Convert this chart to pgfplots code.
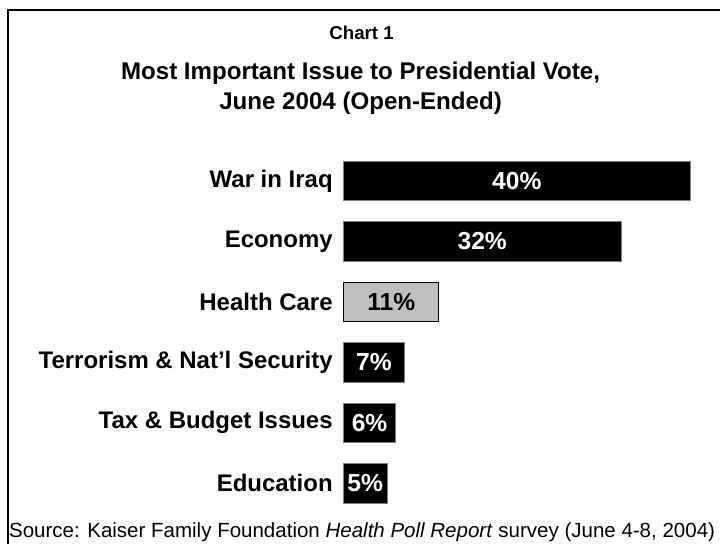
\documentclass[border=0pt]{standalone}
\usepackage{pgfplots}
\usepackage{pgfplotstable}
\pgfplotsset{compat=1.18}
\usepackage{fontspec}
\setmainfont{Liberation Sans}
\definecolor{hcgray}{RGB}{192,192,192}
\pgfplotstableread{
y v lab
0 40 40\%
1 32 32\%
3 7 7\%
4 6 6\%
5 5 5\%
}\blackbars
\pgfplotstableread{
y v lab
2 11 11\%
}\graybars
\begin{document}
\begin{tikzpicture}
\begin{scope}[x=0.75pt,y=-0.75pt]
\path (0,0) rectangle (721,545);
\draw[line width=1.3pt] (8,545) -- (8,10) -- (721,10);
\node[anchor=base, font=\bfseries\fontsize{14}{16}\selectfont] at (362,40) {Chart 1};
\node[anchor=base, font=\bfseries\fontsize{18.1}{21}\selectfont] at (361,80) {Most Important Issue to Presidential Vote,};
\node[anchor=base, font=\bfseries\fontsize{18.1}{21}\selectfont] at (361,110) {June 2004 (Open-Ended)};
\node[anchor=base, font=\fontsize{15.4}{18}\selectfont] at (362.5,538) {Source: Kaiser Family Foundation \textit{Health Poll Report} survey (June 4-8, 2004)};
\end{scope}
\begin{axis}[
  at={(258pt,-385.5pt)}, anchor=south west,
  scale only axis, width=260.25pt, height=272.25pt,
  xmin=0, xmax=40, ymin=-0.5, ymax=5.5, y dir=reverse,
  axis lines=left, axis line style={draw=none},
  xtick=\empty, ytick={0,1,2,3,4,5},
  yticklabels={War in Iraq, Economy, Health Care, Terrorism \& Nat’l Security, Tax \& Budget Issues, Education},
  major tick length=0pt,
  yticklabel style={font=\bfseries\fontsize{18}{20}\selectfont, anchor=east, inner sep=0pt, xshift=-8pt},
  clip=false,
]
\addplot[xbar, bar width=29.6pt, bar shift=0pt, fill=black, draw=gray, line width=0.5pt] table[x=v, y=y] {\blackbars};
\addplot[xbar, bar width=29.6pt, bar shift=0pt, fill=hcgray, draw=black, line width=0.6pt] table[x=v, y=y] {\graybars};
\addplot[draw=none, mark=none, nodes near coords, point meta=explicit symbolic,
  every node near coord/.append style={anchor=center, text=white, font=\bfseries\fontsize{18.5}{20}\selectfont}]
  table[x expr=\thisrow{v}/2, y=y, meta=lab] {\blackbars};
\addplot[draw=none, mark=none, nodes near coords, point meta=explicit symbolic,
  every node near coord/.append style={anchor=center, text=black, font=\bfseries\fontsize{18.5}{20}\selectfont}]
  table[x expr=\thisrow{v}/2, y=y, meta=lab] {\graybars};
\end{axis}
\end{tikzpicture}
\end{document}
